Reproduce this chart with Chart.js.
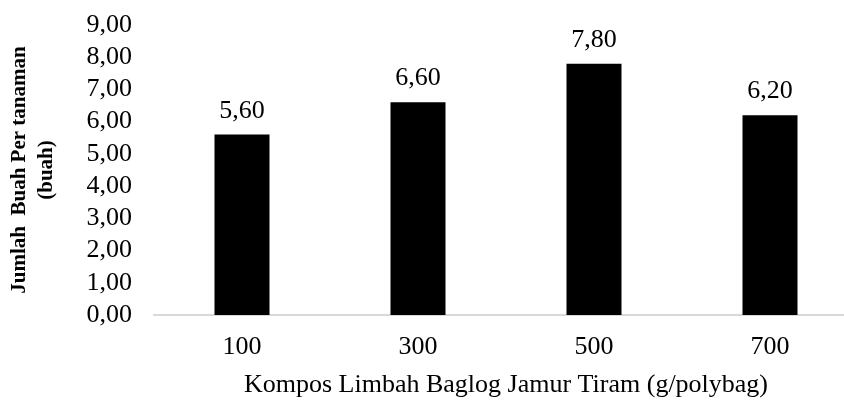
<!DOCTYPE html>
<html>
<head>
<meta charset="utf-8">
<script src="https://cdn.jsdelivr.net/npm/chart.js@4/dist/chart.umd.min.js"></script>
<style>
  html, body { margin: 0; padding: 0; background: #fff; overflow: hidden; }
  #wrap { width: 858px; height: 401px; }
</style>
</head>
<body>
<div id="wrap"><canvas id="c" width="858" height="401"></canvas></div>
<script>
// Fruit count per plant by oyster-mushroom baglog compost dose
const categories = ['100', '300', '500', '700'];
const fruitsPerPlant = [5.60, 6.60, 7.80, 6.20];
const yTicks = [0, 1, 2, 3, 4, 5, 6, 7, 8, 9];

const xTitle = 'Kompos Limbah Baglog Jamur Tiram (g/polybag)';
const yTitle = ['Jumlah  Buah Per tanaman', '(buah)'];

const serif = '"Liberation Serif", "Times New Roman", serif';
const fmt = v => Number(v).toFixed(2).replace('.', ',');

// value labels above each bar
const valueLabels = {
  id: 'valueLabels',
  afterDatasetsDraw(chart) {
    const ctx = chart.ctx;
    const meta = chart.getDatasetMeta(0);
    ctx.save();
    ctx.font = '26px ' + serif;
    ctx.fillStyle = '#000';
    ctx.textAlign = 'center';
    ctx.textBaseline = 'alphabetic';
    meta.data.forEach((bar, i) => {
      ctx.fillText(fmt(chart.data.datasets[0].data[i]), bar.x, bar.y - 17);
    });
    ctx.restore();
  }
};

new Chart(document.getElementById('c'), {
  type: 'bar',
  data: {
    labels: categories,
    datasets: [{
      data: fruitsPerPlant,
      backgroundColor: '#000',
      borderWidth: 0,
      categoryPercentage: 1,
      barPercentage: 0.3125
    }]
  },
  options: {
    responsive: false,
    animation: false,
    devicePixelRatio: 1,
    layout: { padding: { top: 25, left: 0, right: 0, bottom: 0 } },
    plugins: { legend: { display: false }, tooltip: { enabled: false } },
    scales: {
      x: {
        grid: { display: false, drawTicks: false },
        border: { display: true, color: '#d9d9d9', width: 2 },
        ticks: { color: '#000', font: { family: serif, size: 26 }, padding: 17 },
        title: {
          display: true,
          text: xTitle,
          color: '#000',
          font: { family: serif, size: 26 },
          padding: { top: 0, bottom: 0 }
        },
        afterFit(scale) { scale.height = 86; }
      },
      y: {
        min: 0,
        max: 9,
        afterBuildTicks(scale) { scale.ticks = yTicks.map(v => ({ value: v })); },
        grid: { display: false, drawTicks: false },
        border: { display: false },
        ticks: {
          color: '#000',
          font: { family: serif, size: 26 },
          padding: 22,
          autoSkip: false,
          callback: v => fmt(v)
        },
        title: {
          display: true,
          text: yTitle,
          color: '#000',
          font: { family: serif, size: 21, weight: 'bold', lineHeight: 1.3 },
          padding: { top: 6, bottom: 0 }
        },
        afterFit(scale) {
          scale.width = 154;
          scale.paddingTop = 0;
          scale.paddingBottom = 0;
        }
      }
    }
  },
  plugins: [valueLabels]
});
</script>
</body>
</html>
